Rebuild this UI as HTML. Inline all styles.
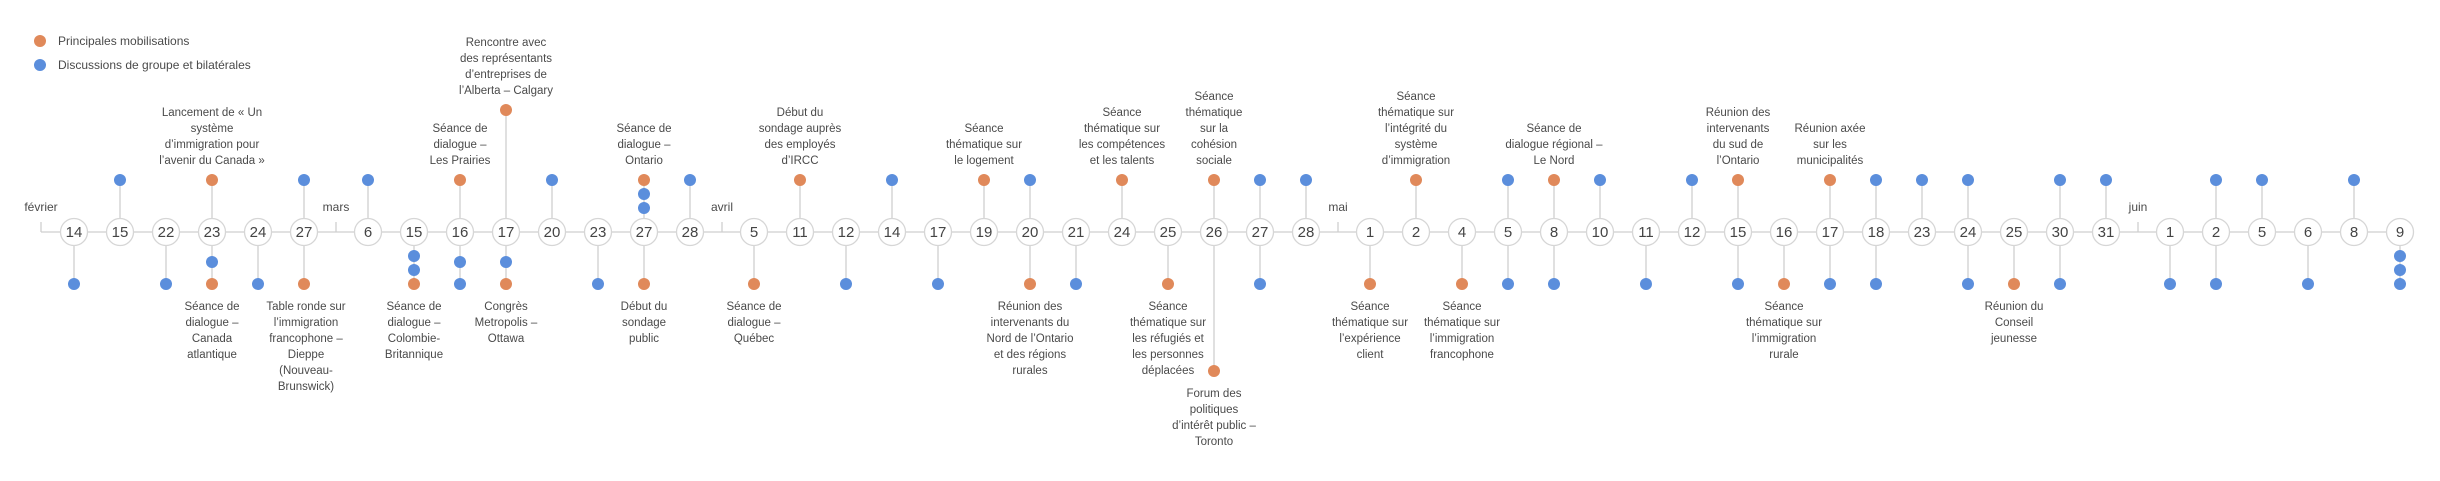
<!DOCTYPE html>
<html><head><meta charset="utf-8"><style>
html,body{margin:0;padding:0;background:#fff;}
svg{display:block;font-family:"Liberation Sans",sans-serif;}
.l{stroke:#cfcfcf;stroke-width:1.3;fill:none}
.c{fill:#fff;stroke:#d6d6d6;stroke-width:1.3}
.n{font-size:15px;fill:#444;text-anchor:middle}
.t{font-size:11.5px;fill:#4a4a4a;text-anchor:middle}
.m{font-size:12px;fill:#4a4a4a;text-anchor:middle}
.o{fill:#E0895A}.b{fill:#5B8EDC}
</style></head><body>
<svg width="2440" height="481" viewBox="0 0 2440 481">
<!-- legend -->
<circle class="o" cx="40" cy="41" r="6"/><text x="58" y="45" style="font-size:12px;fill:#4a4a4a">Principales mobilisations</text>
<circle class="b" cx="40" cy="65" r="6"/><text x="58" y="69" style="font-size:12px;fill:#4a4a4a">Discussions de groupe et bilatérales</text>

<!-- main line -->
<line class="l" x1="41" y1="232" x2="2400" y2="232"/>
<line class="l" x1="41" y1="222" x2="41" y2="232"/>
<line class="l" x1="336" y1="222" x2="336" y2="232"/>
<line class="l" x1="722" y1="222" x2="722" y2="232"/>
<line class="l" x1="1338" y1="222" x2="1338" y2="232"/>
<line class="l" x1="2138" y1="222" x2="2138" y2="232"/>
<text class="m" x="41" y="211">février</text>
<text class="m" x="336" y="211">mars</text>
<text class="m" x="722" y="211">avril</text>
<text class="m" x="1338" y="211">mai</text>
<text class="m" x="2138" y="211">juin</text>

<!-- connectors up -->
<g class="l">
<line x1="120" y1="180" x2="120" y2="232"/><line x1="212" y1="180" x2="212" y2="232"/>
<line x1="304" y1="180" x2="304" y2="232"/><line x1="368" y1="180" x2="368" y2="232"/>
<line x1="460" y1="180" x2="460" y2="232"/><line x1="506" y1="110" x2="506" y2="232"/>
<line x1="552" y1="180" x2="552" y2="232"/><line x1="644" y1="180" x2="644" y2="232"/>
<line x1="690" y1="180" x2="690" y2="232"/><line x1="800" y1="180" x2="800" y2="232"/>
<line x1="892" y1="180" x2="892" y2="232"/><line x1="984" y1="180" x2="984" y2="232"/>
<line x1="1030" y1="180" x2="1030" y2="232"/><line x1="1122" y1="180" x2="1122" y2="232"/>
<line x1="1214" y1="180" x2="1214" y2="232"/><line x1="1260" y1="180" x2="1260" y2="232"/>
<line x1="1306" y1="180" x2="1306" y2="232"/><line x1="1416" y1="180" x2="1416" y2="232"/>
<line x1="1508" y1="180" x2="1508" y2="232"/><line x1="1554" y1="180" x2="1554" y2="232"/>
<line x1="1600" y1="180" x2="1600" y2="232"/><line x1="1692" y1="180" x2="1692" y2="232"/>
<line x1="1738" y1="180" x2="1738" y2="232"/><line x1="1830" y1="180" x2="1830" y2="232"/>
<line x1="1876" y1="180" x2="1876" y2="232"/><line x1="1922" y1="180" x2="1922" y2="232"/>
<line x1="1968" y1="180" x2="1968" y2="232"/><line x1="2060" y1="180" x2="2060" y2="232"/>
<line x1="2106" y1="180" x2="2106" y2="232"/><line x1="2216" y1="180" x2="2216" y2="232"/>
<line x1="2262" y1="180" x2="2262" y2="232"/><line x1="2354" y1="180" x2="2354" y2="232"/>
</g>
<!-- connectors down -->
<g class="l">
<line x1="74" y1="232" x2="74" y2="284"/><line x1="166" y1="232" x2="166" y2="284"/>
<line x1="212" y1="232" x2="212" y2="284"/><line x1="258" y1="232" x2="258" y2="284"/>
<line x1="304" y1="232" x2="304" y2="284"/><line x1="414" y1="232" x2="414" y2="284"/>
<line x1="460" y1="232" x2="460" y2="284"/><line x1="506" y1="232" x2="506" y2="284"/>
<line x1="598" y1="232" x2="598" y2="284"/><line x1="644" y1="232" x2="644" y2="284"/>
<line x1="754" y1="232" x2="754" y2="284"/><line x1="846" y1="232" x2="846" y2="284"/>
<line x1="938" y1="232" x2="938" y2="284"/><line x1="1030" y1="232" x2="1030" y2="284"/>
<line x1="1076" y1="232" x2="1076" y2="284"/><line x1="1168" y1="232" x2="1168" y2="284"/>
<line x1="1214" y1="232" x2="1214" y2="371"/><line x1="1260" y1="232" x2="1260" y2="284"/>
<line x1="1370" y1="232" x2="1370" y2="284"/><line x1="1462" y1="232" x2="1462" y2="284"/>
<line x1="1508" y1="232" x2="1508" y2="284"/><line x1="1554" y1="232" x2="1554" y2="284"/>
<line x1="1646" y1="232" x2="1646" y2="284"/><line x1="1738" y1="232" x2="1738" y2="284"/>
<line x1="1784" y1="232" x2="1784" y2="284"/><line x1="1830" y1="232" x2="1830" y2="284"/>
<line x1="1876" y1="232" x2="1876" y2="284"/><line x1="1968" y1="232" x2="1968" y2="284"/>
<line x1="2014" y1="232" x2="2014" y2="284"/><line x1="2060" y1="232" x2="2060" y2="284"/>
<line x1="2170" y1="232" x2="2170" y2="284"/><line x1="2216" y1="232" x2="2216" y2="284"/>
<line x1="2308" y1="232" x2="2308" y2="284"/><line x1="2400" y1="232" x2="2400" y2="284"/>
</g>

<!-- date circles -->
<g>
<circle class="c" cx="74" cy="232" r="13.5"/><text class="n" x="74" y="237">14</text>
<circle class="c" cx="120" cy="232" r="13.5"/><text class="n" x="120" y="237">15</text>
<circle class="c" cx="166" cy="232" r="13.5"/><text class="n" x="166" y="237">22</text>
<circle class="c" cx="212" cy="232" r="13.5"/><text class="n" x="212" y="237">23</text>
<circle class="c" cx="258" cy="232" r="13.5"/><text class="n" x="258" y="237">24</text>
<circle class="c" cx="304" cy="232" r="13.5"/><text class="n" x="304" y="237">27</text>
<circle class="c" cx="368" cy="232" r="13.5"/><text class="n" x="368" y="237">6</text>
<circle class="c" cx="414" cy="232" r="13.5"/><text class="n" x="414" y="237">15</text>
<circle class="c" cx="460" cy="232" r="13.5"/><text class="n" x="460" y="237">16</text>
<circle class="c" cx="506" cy="232" r="13.5"/><text class="n" x="506" y="237">17</text>
<circle class="c" cx="552" cy="232" r="13.5"/><text class="n" x="552" y="237">20</text>
<circle class="c" cx="598" cy="232" r="13.5"/><text class="n" x="598" y="237">23</text>
<circle class="c" cx="644" cy="232" r="13.5"/><text class="n" x="644" y="237">27</text>
<circle class="c" cx="690" cy="232" r="13.5"/><text class="n" x="690" y="237">28</text>
<circle class="c" cx="754" cy="232" r="13.5"/><text class="n" x="754" y="237">5</text>
<circle class="c" cx="800" cy="232" r="13.5"/><text class="n" x="800" y="237">11</text>
<circle class="c" cx="846" cy="232" r="13.5"/><text class="n" x="846" y="237">12</text>
<circle class="c" cx="892" cy="232" r="13.5"/><text class="n" x="892" y="237">14</text>
<circle class="c" cx="938" cy="232" r="13.5"/><text class="n" x="938" y="237">17</text>
<circle class="c" cx="984" cy="232" r="13.5"/><text class="n" x="984" y="237">19</text>
<circle class="c" cx="1030" cy="232" r="13.5"/><text class="n" x="1030" y="237">20</text>
<circle class="c" cx="1076" cy="232" r="13.5"/><text class="n" x="1076" y="237">21</text>
<circle class="c" cx="1122" cy="232" r="13.5"/><text class="n" x="1122" y="237">24</text>
<circle class="c" cx="1168" cy="232" r="13.5"/><text class="n" x="1168" y="237">25</text>
<circle class="c" cx="1214" cy="232" r="13.5"/><text class="n" x="1214" y="237">26</text>
<circle class="c" cx="1260" cy="232" r="13.5"/><text class="n" x="1260" y="237">27</text>
<circle class="c" cx="1306" cy="232" r="13.5"/><text class="n" x="1306" y="237">28</text>
<circle class="c" cx="1370" cy="232" r="13.5"/><text class="n" x="1370" y="237">1</text>
<circle class="c" cx="1416" cy="232" r="13.5"/><text class="n" x="1416" y="237">2</text>
<circle class="c" cx="1462" cy="232" r="13.5"/><text class="n" x="1462" y="237">4</text>
<circle class="c" cx="1508" cy="232" r="13.5"/><text class="n" x="1508" y="237">5</text>
<circle class="c" cx="1554" cy="232" r="13.5"/><text class="n" x="1554" y="237">8</text>
<circle class="c" cx="1600" cy="232" r="13.5"/><text class="n" x="1600" y="237">10</text>
<circle class="c" cx="1646" cy="232" r="13.5"/><text class="n" x="1646" y="237">11</text>
<circle class="c" cx="1692" cy="232" r="13.5"/><text class="n" x="1692" y="237">12</text>
<circle class="c" cx="1738" cy="232" r="13.5"/><text class="n" x="1738" y="237">15</text>
<circle class="c" cx="1784" cy="232" r="13.5"/><text class="n" x="1784" y="237">16</text>
<circle class="c" cx="1830" cy="232" r="13.5"/><text class="n" x="1830" y="237">17</text>
<circle class="c" cx="1876" cy="232" r="13.5"/><text class="n" x="1876" y="237">18</text>
<circle class="c" cx="1922" cy="232" r="13.5"/><text class="n" x="1922" y="237">23</text>
<circle class="c" cx="1968" cy="232" r="13.5"/><text class="n" x="1968" y="237">24</text>
<circle class="c" cx="2014" cy="232" r="13.5"/><text class="n" x="2014" y="237">25</text>
<circle class="c" cx="2060" cy="232" r="13.5"/><text class="n" x="2060" y="237">30</text>
<circle class="c" cx="2106" cy="232" r="13.5"/><text class="n" x="2106" y="237">31</text>
<circle class="c" cx="2170" cy="232" r="13.5"/><text class="n" x="2170" y="237">1</text>
<circle class="c" cx="2216" cy="232" r="13.5"/><text class="n" x="2216" y="237">2</text>
<circle class="c" cx="2262" cy="232" r="13.5"/><text class="n" x="2262" y="237">5</text>
<circle class="c" cx="2308" cy="232" r="13.5"/><text class="n" x="2308" y="237">6</text>
<circle class="c" cx="2354" cy="232" r="13.5"/><text class="n" x="2354" y="237">8</text>
<circle class="c" cx="2400" cy="232" r="13.5"/><text class="n" x="2400" y="237">9</text>
</g>

<!-- dots -->
<g>
<circle class="b" cx="74" cy="284" r="6"/>
<circle class="b" cx="120" cy="180" r="6"/>
<circle class="b" cx="166" cy="284" r="6"/>
<circle class="o" cx="212" cy="180" r="6"/><circle class="b" cx="212" cy="262" r="6"/><circle class="o" cx="212" cy="284" r="6"/>
<circle class="b" cx="258" cy="284" r="6"/>
<circle class="b" cx="304" cy="180" r="6"/><circle class="o" cx="304" cy="284" r="6"/>
<circle class="b" cx="368" cy="180" r="6"/>
<circle class="b" cx="414" cy="256" r="6"/><circle class="b" cx="414" cy="270" r="6"/><circle class="o" cx="414" cy="284" r="6"/>
<circle class="o" cx="460" cy="180" r="6"/><circle class="b" cx="460" cy="262" r="6"/><circle class="b" cx="460" cy="284" r="6"/>
<circle class="o" cx="506" cy="110" r="6"/><circle class="b" cx="506" cy="262" r="6"/><circle class="o" cx="506" cy="284" r="6"/>
<circle class="b" cx="552" cy="180" r="6"/>
<circle class="b" cx="598" cy="284" r="6"/>
<circle class="o" cx="644" cy="180" r="6"/><circle class="b" cx="644" cy="194" r="6"/><circle class="b" cx="644" cy="208" r="6"/><circle class="o" cx="644" cy="284" r="6"/>
<circle class="b" cx="690" cy="180" r="6"/>
<circle class="o" cx="754" cy="284" r="6"/>
<circle class="o" cx="800" cy="180" r="6"/>
<circle class="b" cx="846" cy="284" r="6"/>
<circle class="b" cx="892" cy="180" r="6"/>
<circle class="b" cx="938" cy="284" r="6"/>
<circle class="o" cx="984" cy="180" r="6"/>
<circle class="b" cx="1030" cy="180" r="6"/><circle class="o" cx="1030" cy="284" r="6"/>
<circle class="b" cx="1076" cy="284" r="6"/>
<circle class="o" cx="1122" cy="180" r="6"/>
<circle class="o" cx="1168" cy="284" r="6"/>
<circle class="o" cx="1214" cy="180" r="6"/><circle class="o" cx="1214" cy="371" r="6"/>
<circle class="b" cx="1260" cy="180" r="6"/><circle class="b" cx="1260" cy="284" r="6"/>
<circle class="b" cx="1306" cy="180" r="6"/>
<circle class="o" cx="1370" cy="284" r="6"/>
<circle class="o" cx="1416" cy="180" r="6"/>
<circle class="o" cx="1462" cy="284" r="6"/>
<circle class="b" cx="1508" cy="180" r="6"/><circle class="b" cx="1508" cy="284" r="6"/>
<circle class="o" cx="1554" cy="180" r="6"/><circle class="b" cx="1554" cy="284" r="6"/>
<circle class="b" cx="1600" cy="180" r="6"/>
<circle class="b" cx="1646" cy="284" r="6"/>
<circle class="b" cx="1692" cy="180" r="6"/>
<circle class="o" cx="1738" cy="180" r="6"/><circle class="b" cx="1738" cy="284" r="6"/>
<circle class="o" cx="1784" cy="284" r="6"/>
<circle class="o" cx="1830" cy="180" r="6"/><circle class="b" cx="1830" cy="284" r="6"/>
<circle class="b" cx="1876" cy="180" r="6"/><circle class="b" cx="1876" cy="284" r="6"/>
<circle class="b" cx="1922" cy="180" r="6"/>
<circle class="b" cx="1968" cy="180" r="6"/><circle class="b" cx="1968" cy="284" r="6"/>
<circle class="o" cx="2014" cy="284" r="6"/>
<circle class="b" cx="2060" cy="180" r="6"/><circle class="b" cx="2060" cy="284" r="6"/>
<circle class="b" cx="2106" cy="180" r="6"/>
<circle class="b" cx="2170" cy="284" r="6"/>
<circle class="b" cx="2216" cy="180" r="6"/><circle class="b" cx="2216" cy="284" r="6"/>
<circle class="b" cx="2262" cy="180" r="6"/>
<circle class="b" cx="2308" cy="284" r="6"/>
<circle class="b" cx="2354" cy="180" r="6"/>
<circle class="b" cx="2400" cy="256" r="6"/><circle class="b" cx="2400" cy="270" r="6"/><circle class="b" cx="2400" cy="284" r="6"/>
</g>

<!-- labels above -->
<g class="t">
<text class="t" x="212" y="116"><tspan x="212">Lancement de « Un</tspan><tspan x="212" dy="16">système</tspan><tspan x="212" dy="16">d’immigration pour</tspan><tspan x="212" dy="16">l’avenir du Canada »</tspan></text>
<text class="t" x="460" y="132"><tspan x="460">Séance de</tspan><tspan x="460" dy="16">dialogue –</tspan><tspan x="460" dy="16">Les Prairies</tspan></text>
<text class="t" x="506" y="46"><tspan x="506">Rencontre avec</tspan><tspan x="506" dy="16">des représentants</tspan><tspan x="506" dy="16">d’entreprises de</tspan><tspan x="506" dy="16">l’Alberta – Calgary</tspan></text>
<text class="t" x="644" y="132"><tspan x="644">Séance de</tspan><tspan x="644" dy="16">dialogue –</tspan><tspan x="644" dy="16">Ontario</tspan></text>
<text class="t" x="800" y="116"><tspan x="800">Début du</tspan><tspan x="800" dy="16">sondage auprès</tspan><tspan x="800" dy="16">des employés</tspan><tspan x="800" dy="16">d’IRCC</tspan></text>
<text class="t" x="984" y="132"><tspan x="984">Séance</tspan><tspan x="984" dy="16">thématique sur</tspan><tspan x="984" dy="16">le logement</tspan></text>
<text class="t" x="1122" y="116"><tspan x="1122">Séance</tspan><tspan x="1122" dy="16">thématique sur</tspan><tspan x="1122" dy="16">les compétences</tspan><tspan x="1122" dy="16">et les talents</tspan></text>
<text class="t" x="1214" y="100"><tspan x="1214">Séance</tspan><tspan x="1214" dy="16">thématique</tspan><tspan x="1214" dy="16">sur la</tspan><tspan x="1214" dy="16">cohésion</tspan><tspan x="1214" dy="16">sociale</tspan></text>
<text class="t" x="1416" y="100"><tspan x="1416">Séance</tspan><tspan x="1416" dy="16">thématique sur</tspan><tspan x="1416" dy="16">l’intégrité du</tspan><tspan x="1416" dy="16">système</tspan><tspan x="1416" dy="16">d’immigration</tspan></text>
<text class="t" x="1554" y="132"><tspan x="1554">Séance de</tspan><tspan x="1554" dy="16">dialogue régional –</tspan><tspan x="1554" dy="16">Le Nord</tspan></text>
<text class="t" x="1738" y="116"><tspan x="1738">Réunion des</tspan><tspan x="1738" dy="16">intervenants</tspan><tspan x="1738" dy="16">du sud de</tspan><tspan x="1738" dy="16">l’Ontario</tspan></text>
<text class="t" x="1830" y="132"><tspan x="1830">Réunion axée</tspan><tspan x="1830" dy="16">sur les</tspan><tspan x="1830" dy="16">municipalités</tspan></text>
</g>

<!-- labels below -->
<g>
<text class="t" x="212" y="310"><tspan x="212">Séance de</tspan><tspan x="212" dy="16">dialogue –</tspan><tspan x="212" dy="16">Canada</tspan><tspan x="212" dy="16">atlantique</tspan></text>
<text class="t" x="306" y="310"><tspan x="306">Table ronde sur</tspan><tspan x="306" dy="16">l’immigration</tspan><tspan x="306" dy="16">francophone –</tspan><tspan x="306" dy="16">Dieppe</tspan><tspan x="306" dy="16">(Nouveau-</tspan><tspan x="306" dy="16">Brunswick)</tspan></text>
<text class="t" x="414" y="310"><tspan x="414">Séance de</tspan><tspan x="414" dy="16">dialogue –</tspan><tspan x="414" dy="16">Colombie-</tspan><tspan x="414" dy="16">Britannique</tspan></text>
<text class="t" x="506" y="310"><tspan x="506">Congrès</tspan><tspan x="506" dy="16">Metropolis –</tspan><tspan x="506" dy="16">Ottawa</tspan></text>
<text class="t" x="644" y="310"><tspan x="644">Début du</tspan><tspan x="644" dy="16">sondage</tspan><tspan x="644" dy="16">public</tspan></text>
<text class="t" x="754" y="310"><tspan x="754">Séance de</tspan><tspan x="754" dy="16">dialogue –</tspan><tspan x="754" dy="16">Québec</tspan></text>
<text class="t" x="1030" y="310"><tspan x="1030">Réunion des</tspan><tspan x="1030" dy="16">intervenants du</tspan><tspan x="1030" dy="16">Nord de l’Ontario</tspan><tspan x="1030" dy="16">et des régions</tspan><tspan x="1030" dy="16">rurales</tspan></text>
<text class="t" x="1168" y="310"><tspan x="1168">Séance</tspan><tspan x="1168" dy="16">thématique sur</tspan><tspan x="1168" dy="16">les réfugiés et</tspan><tspan x="1168" dy="16">les personnes</tspan><tspan x="1168" dy="16">déplacées</tspan></text>
<text class="t" x="1214" y="397"><tspan x="1214">Forum des</tspan><tspan x="1214" dy="16">politiques</tspan><tspan x="1214" dy="16">d’intérêt public –</tspan><tspan x="1214" dy="16">Toronto</tspan></text>
<text class="t" x="1370" y="310"><tspan x="1370">Séance</tspan><tspan x="1370" dy="16">thématique sur</tspan><tspan x="1370" dy="16">l’expérience</tspan><tspan x="1370" dy="16">client</tspan></text>
<text class="t" x="1462" y="310"><tspan x="1462">Séance</tspan><tspan x="1462" dy="16">thématique sur</tspan><tspan x="1462" dy="16">l’immigration</tspan><tspan x="1462" dy="16">francophone</tspan></text>
<text class="t" x="1784" y="310"><tspan x="1784">Séance</tspan><tspan x="1784" dy="16">thématique sur</tspan><tspan x="1784" dy="16">l’immigration</tspan><tspan x="1784" dy="16">rurale</tspan></text>
<text class="t" x="2014" y="310"><tspan x="2014">Réunion du</tspan><tspan x="2014" dy="16">Conseil</tspan><tspan x="2014" dy="16">jeunesse</tspan></text>
</g>
</svg>
</body></html>
